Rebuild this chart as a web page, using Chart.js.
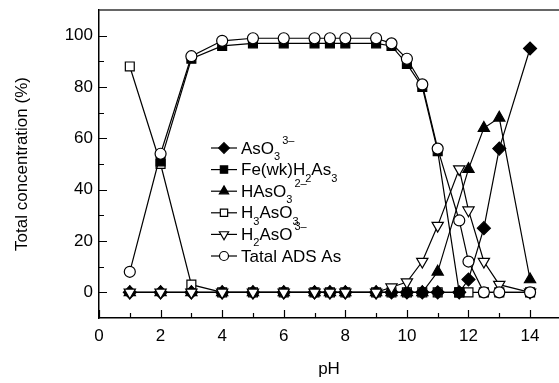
<!DOCTYPE html>
<html><head><meta charset="utf-8">
<script src="https://cdn.jsdelivr.net/npm/chart.js@4/dist/chart.umd.min.js"></script>
<style>html,body{margin:0;padding:0;background:#fff;overflow:hidden}</style>
</head><body>
<canvas id="c" width="559" height="383"></canvas>
<script>
const pH      = [1, 2, 3, 4, 5, 6, 7, 7.5, 8, 9, 9.5, 10, 10.5, 11, 11.7, 12, 12.5, 13, 14];
const AsO3    = [0, 0, 0, 0, 0, 0, 0, 0, 0, 0, 0, 0, 0, 0, 0, 5, 25, 56, 95];
const FeWk    = [null, 51, 91, 96, 97, 97, 97, 97, 97, 97, 96, 89, 80, 55, 0, null, null, null, null];
const HAsO3   = [0, 0, 0, 0, 0, 0, 0, 0, 0, 0, 0, 0, 0, 8, null, 48, 64, 68, 5];
const H3AsO3  = [88, 50, 3, 0, 0, 0, 0, 0, 0, 0, 0, 0, 0, 0, 0, 0, 0, 0, 0];
const H2AsO3  = [0, 0, 0, 0, 0, 0, 0, 0, 0, 0, 2, 4, 12, 26, 48, 32, 12, 3, 0];
const TatalAs = [8, 54, 92, 98, 99, 99, 99, 99, 99, 99, 97, 91, 81, 56, 28, 12, 0, 0, 0];

const xTicks = [0, 2, 4, 6, 8, 10, 12, 14];
const xMinor = [1, 3, 5, 7, 9, 11, 13];
const yTicks = [0, 20, 40, 60, 80, 100];
const yMinor = [10, 30, 50, 70, 90];

const FONT = "'Liberation Sans', Arial, sans-serif";

function pts(arr){ return pH.map((x,i)=>({x:x, y:arr[i]})); }

const series = [
  {key:'AsO3',  data:AsO3,   style:'rectRot',  r:6.5, fill:'#000', rot:0,   order:4,
   label:[['AsO',''],['3','sub'],['3–','sup']]},
  {key:'Fe',    data:FeWk,   style:'rect',     r:6.3, fill:'#000', rot:0,   order:2,
   label:[['Fe(wk)H',''],['2','sub'],['As',''],['3','sub']]},
  {key:'HAsO3', data:HAsO3,  style:'triangle', r:6.5, fill:'#000', rot:0,   order:3,
   label:[['HAsO',''],['3','sub'],['2–','sup']]},
  {key:'H3AsO3',data:H3AsO3, style:'rect',     r:6.3, fill:'#fff', rot:0,   order:5,
   label:[['H',''],['3','sub'],['AsO',''],['3','sub']]},
  {key:'H2AsO3',data:H2AsO3, style:'triangle', r:6.5, fill:'#fff', rot:180, order:1,
   label:[['H',''],['2','sub'],['AsO',''],['3–','sup']]},
  {key:'Tatal', data:TatalAs,style:'circle',   r:5.5, fill:'#fff', rot:0,   order:0,
   label:[['Tatal ADS As','']]}
];

const datasets = series.map(s=>({
  label: s.key,
  data: pts(s.data),
  borderColor:'#000', borderWidth:1.2,
  pointStyle:s.style, pointRadius:s.r, pointRotation:s.rot,
  pointBackgroundColor:s.fill, pointBorderColor:'#000', pointBorderWidth:1.2,
  pointHoverRadius:s.r, spanGaps:true, tension:0, fill:false, order:s.order, clip:false
}));

function drawMarker(ctx, style, x, y, r, fill, rot){
  ctx.save();
  ctx.translate(x,y);
  ctx.rotate(rot*Math.PI/180);
  ctx.beginPath();
  if(style==='circle'){ ctx.arc(0,0,r,0,Math.PI*2); }
  else if(style==='rect'){ const h=r*Math.SQRT1_2; ctx.rect(-h,-h,2*h,2*h); }
  else if(style==='rectRot'){ ctx.moveTo(0,-r); ctx.lineTo(r,0); ctx.lineTo(0,r); ctx.lineTo(-r,0); ctx.closePath(); }
  else if(style==='triangle'){
    for(let k=0;k<3;k++){ const a=-Math.PI/2+k*2*Math.PI/3; const px=Math.cos(a)*r, py=Math.sin(a)*r; if(k===0)ctx.moveTo(px,py); else ctx.lineTo(px,py);} ctx.closePath();
  }
  ctx.fillStyle=fill; ctx.fill();
  ctx.lineWidth=1.2; ctx.strokeStyle='#000'; ctx.stroke();
  ctx.restore();
}

const framePlugin = {
  id:'frame',
  beforeDatasetsDraw(chart){
    const ctx=chart.ctx, a=chart.chartArea, xs=chart.scales.x, ys=chart.scales.y;
    ctx.save();
    ctx.strokeStyle='#333'; ctx.lineWidth=1.5;
    ctx.beginPath(); ctx.moveTo(a.left, a.top); ctx.lineTo(chart.width, a.top); ctx.stroke();
    ctx.strokeStyle='#000'; ctx.lineWidth=1.2;
    ctx.beginPath();
    xTicks.forEach(v=>{const p=Math.round(xs.getPixelForValue(v))+0.5; ctx.moveTo(p,a.bottom); ctx.lineTo(p,a.bottom-8);});
    xMinor.forEach(v=>{const p=Math.round(xs.getPixelForValue(v))+0.5; ctx.moveTo(p,a.bottom); ctx.lineTo(p,a.bottom-5);});
    yTicks.forEach(v=>{const p=Math.round(ys.getPixelForValue(v))+0.5; ctx.moveTo(a.left,p); ctx.lineTo(a.left+8,p);});
    yMinor.forEach(v=>{const p=Math.round(ys.getPixelForValue(v))+0.5; ctx.moveTo(a.left,p); ctx.lineTo(a.left+5,p);});
    ctx.stroke();
    ctx.restore();
  },
  afterDraw(chart){
    const ctx=chart.ctx;
    const x0=211, x1=237, y0=148, dy=21.6;
    ctx.save();
    series.forEach((s,i)=>{
      const y=y0+i*dy;
      ctx.strokeStyle='#000'; ctx.lineWidth=1.2;
      ctx.beginPath(); ctx.moveTo(x0,y); ctx.lineTo(x1,y); ctx.stroke();
      drawMarker(ctx, s.style, (x0+x1)/2, y, s.r*0.82, s.fill, s.rot);
      let tx=x1+4;
      ctx.fillStyle='#000'; ctx.textBaseline='middle'; ctx.textAlign='left';
      s.label.forEach(([t,kind])=>{
        if(kind===''){ ctx.font='17px '+FONT; ctx.fillText(t,tx,y+1); tx+=ctx.measureText(t).width; }
        else if(kind==='sub'){ ctx.font='11px '+FONT; ctx.fillText(t,tx,y+9); tx+=ctx.measureText(t).width; }
        else { ctx.font='11px '+FONT; ctx.fillText(t,tx+2,y-7); tx+=ctx.measureText(t).width+2; }
      });
    });
    ctx.restore();
  }
};

function noPad(s){ s.paddingLeft=0; s.paddingRight=0; s.paddingTop=0; s.paddingBottom=0; }

new Chart(document.getElementById('c'), {
  type:'line',
  data:{datasets},
  plugins:[framePlugin],
  options:{
    responsive:false, animation:false, devicePixelRatio:1,
    layout:{autoPadding:false, padding:{top:10,left:0,right:0,bottom:0}},
    plugins:{legend:{display:false}, tooltip:{enabled:false}},
    scales:{
      x:{type:'linear', min:0, max:14.94,
        afterBuildTicks:s=>{s.ticks=xTicks.map(v=>({value:v}));},
        afterFit:s=>{s.height=65; noPad(s);},
        grid:{display:false, drawTicks:false},
        border:{display:true, color:'#000', width:1.5},
        ticks:{padding:8, color:'#000', font:{family:FONT, size:17}, maxRotation:0, autoSkip:false},
        title:{display:true, text:'pH', color:'#000', font:{family:FONT, size:17}, padding:{top:0,bottom:3}}
      },
      y:{type:'linear', min:-10, max:110,
        afterBuildTicks:s=>{s.ticks=yTicks.map(v=>({value:v}));},
        afterFit:s=>{s.width=99; noPad(s);},
        grid:{display:false, drawTicks:false},
        border:{display:true, color:'#000', width:1.5},
        ticks:{padding:6, color:'#000', font:{family:FONT, size:17}},
        title:{display:true, text:'Total concentration (%)', color:'#000', font:{family:FONT, size:17}, padding:{top:12,bottom:0}}
      }
    }
  }
});
</script>
</body></html>
